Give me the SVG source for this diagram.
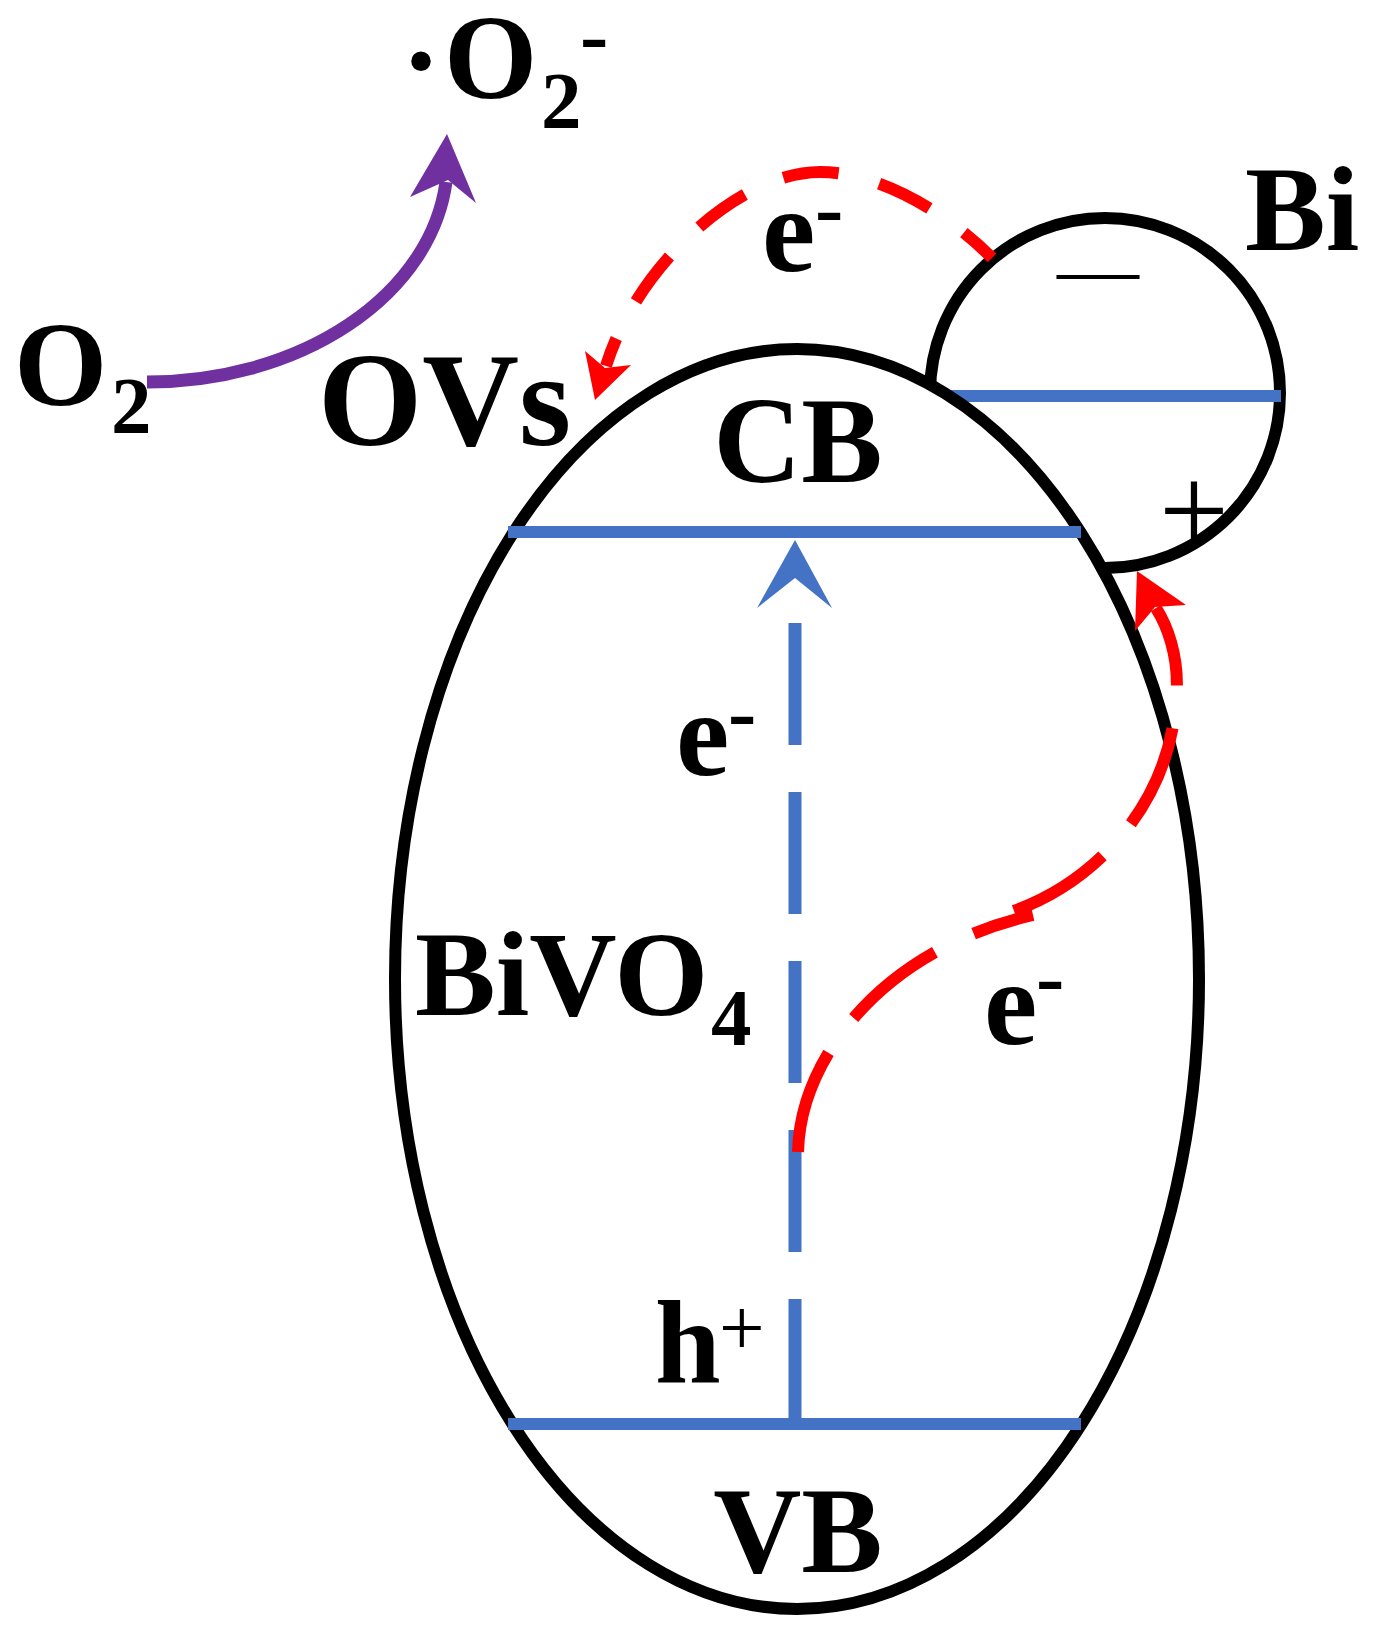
<svg xmlns="http://www.w3.org/2000/svg" width="1379" height="1638" viewBox="0 0 1379 1638">
<style>
.t{font-family:"Liberation Serif","Times New Roman",serif;font-weight:bold;fill:#000}
.r{font-family:"Liberation Serif","Times New Roman",serif;font-weight:normal;fill:#000}
.outline{fill:#fff;stroke:#000;stroke-width:12}
.band{stroke:#4472C4;stroke-width:12;fill:none}
.red{stroke:#FF0000;stroke-width:12;fill:none}
</style>
<rect width="1379" height="1638" fill="#fff"/>
<g id="node-bi">
<circle class="outline" cx="1105" cy="393" r="175"/>
<line class="band" x1="930" y1="396" x2="1281" y2="396"/>
</g>
<g id="node-bivo4">
<ellipse class="outline" cx="797" cy="979" rx="402" ry="630"/>
<line class="band" x1="508" y1="532" x2="1081" y2="532"/>
<line class="band" x1="508" y1="1424" x2="1081" y2="1424"/>
<text class="t" x="798" y="482" font-size="122" text-anchor="middle">CB</text>
<text class="t" x="798" y="1572" font-size="122" text-anchor="middle">VB</text>
<text class="t" font-size="121"><tspan x="415" y="1015">BiVO</tspan><tspan x="711" y="1045" font-size="81">4</tspan></text>
</g>
<g id="node-bi-labels">
<text class="t" x="1245" y="250" font-size="121">Bi</text>
<text class="r" x="1057" y="296" font-size="82">—</text>
<text class="r" x="1159" y="552" font-size="124">+</text>
</g>
<g id="node-o2">
<text class="t" font-size="120"><tspan x="14" y="405">O</tspan><tspan x="111" y="433" font-size="81">2</tspan></text>
</g>
<g id="node-superoxide">
<text class="t" font-size="120"><tspan x="401" y="101">·</tspan><tspan x="444" y="98">O</tspan><tspan x="541" y="128" font-size="81">2</tspan><tspan x="580" y="63" font-size="85">-</tspan></text>
</g>
<g id="node-ovs">
<text class="t" x="318" y="445" font-size="134">OVs</text>
</g>
<g id="carrier-labels">
<text class="t" font-size="120"><tspan x="762" y="271">e</tspan><tspan x="815" y="236" font-size="85">-</tspan></text>
<text class="t" font-size="120"><tspan x="676" y="775">e</tspan><tspan x="728" y="740" font-size="85">-</tspan></text>
<text class="t" font-size="120"><tspan x="984" y="1044">e</tspan><tspan x="1036" y="1005" font-size="85">-</tspan></text>
<text class="t" x="655" y="1382" font-size="118">h<tspan class="r" x="719" y="1355" font-size="81">+</tspan></text>
</g>
<g id="connectors">
<path d="M147,382 A300,222 0 0 0 446,182" fill="none" stroke="#7030A0" stroke-width="13"/>
<polygon points="447,134 476,203 448,180 410,197" fill="#7030A0"/>
<line x1="795" y1="623" x2="795" y2="1424" stroke="#4472C4" stroke-width="13" stroke-dasharray="122 47"/>
<polygon points="795,540 832,608 795,578 757,608" fill="#4472C4"/>
<path class="red" d="M992,258 C950,215 880,172 820,172 C740,172 637,265 606,366" stroke-dasharray="56 42" stroke-dashoffset="18"/>
<polygon points="595,400 631,365 605,368 585,351" fill="#FF0000"/>
<path class="red" d="M798,1152 C800,1060 880,950 1033,915" stroke-dasharray="105 43"/>
<path class="red" d="M1014,911 C1100,880 1170,800 1176,700 C1180,664 1170,630 1156,608" stroke-dasharray="105 43"/>
<polygon points="1137,571 1186,605 1155,607 1135,631" fill="#FF0000"/>
</g>
</svg>
